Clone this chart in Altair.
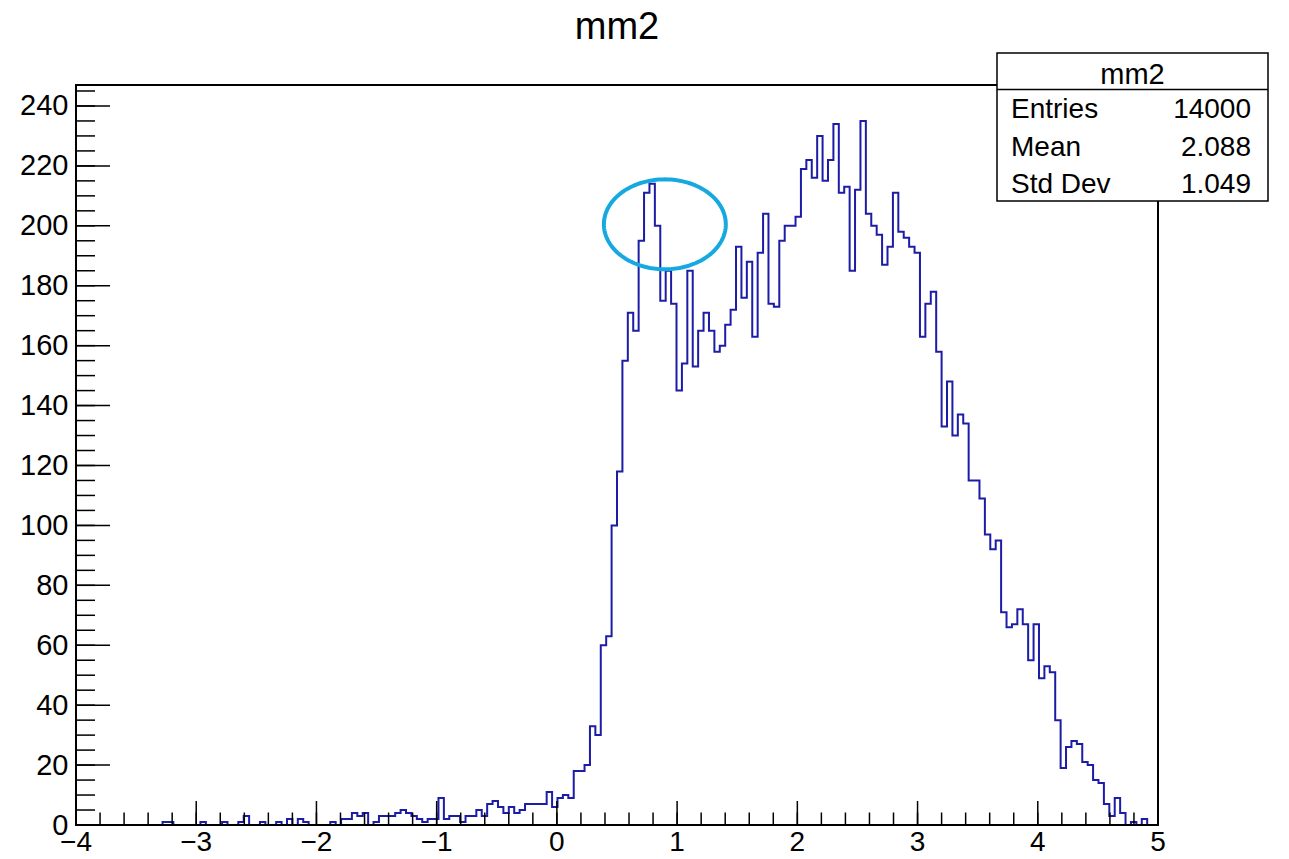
import altair as alt
import numpy as np
import pandas as pd

# ---------------- data ----------------
title_text = "mm2"
x_lo, x_hi, n_bins = -4.0, 5.0, 200
counts = [
    0, 0, 0, 0, 0, 0, 0, 0, 0, 0, 0, 0, 0, 0, 0, 0, 1, 1, 0, 0,
    0, 0, 0, 1, 0, 0, 0, 1, 0, 0, 1, 3, 0, 0, 1, 0, 0, 1, 0, 2,
    0, 2, 1, 0, 0, 0, 0, 1, 0, 2, 2, 4, 3, 4, 0, 1, 3, 3, 3, 4,
    5, 4, 3, 2, 1, 2, 2, 9, 2, 3, 3, 1, 3, 3, 5, 3, 7, 8, 6, 4,
    6, 4, 5, 7, 7, 7, 7, 11, 6, 9, 10, 9, 18, 18, 20, 33, 30, 60, 63, 100,
    118, 155, 171, 165, 195, 211, 214, 200, 175, 185, 174, 145, 154, 185, 153, 165, 171, 165, 158, 160,
    167, 172, 193, 176, 188, 163, 191, 204, 174, 173, 195, 200, 200, 203, 219, 222, 216, 230, 215, 222,
    234, 211, 213, 185, 212, 235, 204, 200, 197, 187, 193, 211, 198, 196, 193, 191, 163, 174, 178, 158,
    133, 148, 130, 137, 134, 115, 115, 109, 97, 92, 95, 71, 66, 67, 72, 67, 55, 67, 49, 53,
    51, 35, 19, 26, 28, 27, 21, 20, 15, 14, 7, 3, 9, 4, 0, 1, 0, 2, 0, 0,
]
y_top = 247
x_major = [-4, -3, -2, -1, 0, 1, 2, 3, 4, 5]
x_labels = ["\u22124", "\u22123", "\u22122", "\u22121", "0", "1", "2", "3", "4", "5"]
x_minor = [round(-4 + 0.2 * i, 2) for i in range(46)]
y_major = [0, 20, 40, 60, 80, 100, 120, 140, 160, 180, 200, 220, 240]
y_minor = list(range(0, 246, 5))
stats_names = ["Entries", "Mean", "Std Dev"]
stats_values = ["14000", "2.088", "1.049"]
# highlight ellipse (centre x, centre y, half-width, half-height) in data units
ell_cx, ell_cy, ell_rx, ell_ry = 0.898, 200.5, 0.507, 15.0

# ---------------- styles ----------------
W, H = 1082, 740
FONT = "Liberation Sans"
HIST_COLOR = "#1c1ca6"
ELL_COLOR = "#16a9e1"

width_bin = (x_hi - x_lo) / n_bins
edges = [x_lo + width_bin * k for k in range(n_bins)] + [x_hi]
hist_df = pd.DataFrame({"x": edges, "y": counts + [counts[-1]]})

t = np.linspace(0, 2 * np.pi, 181)
ell_df = pd.DataFrame({"x": ell_cx + ell_rx * np.cos(t),
                       "y": ell_cy + ell_ry * np.sin(t),
                       "i": np.arange(len(t))})

xs = alt.Scale(domain=[x_lo, x_hi], nice=False, zero=False)
ys = alt.Scale(domain=[0, y_top], nice=False, zero=True)

hist = alt.Chart(hist_df).mark_line(
    interpolate="step-after", color=HIST_COLOR, strokeWidth=2
).encode(
    x=alt.X("x:Q", scale=xs, axis=None),
    y=alt.Y("y:Q", scale=ys, axis=alt.Axis(
        values=y_major, title=None, grid=False, ticks=False, tickSize=0,
        domain=False, labelFontSize=29, labelFont=FONT, labelColor="black",
        labelPadding=8)),
)

xlab = alt.Chart(pd.DataFrame({"v": x_major, "lab": x_labels})).mark_text(
    font=FONT, fontSize=28, color="black", align="center", baseline="alphabetic"
).encode(x=alt.X("v:Q", scale=xs, axis=None), y=alt.value(H + 26), text="lab:N")

ellipse = alt.Chart(ell_df).mark_line(color=ELL_COLOR, strokeWidth=4).encode(
    x=alt.X("x:Q", scale=xs, axis=None),
    y=alt.Y("y:Q", scale=ys, axis=None),
    order="i:O",
)

def xticks(vals, length):
    return alt.Chart(pd.DataFrame({"v": vals})).mark_rule(color="black", strokeWidth=1.5).encode(
        x=alt.X("v:Q", scale=xs, axis=None), y=alt.value(H), y2=alt.value(H - length))

def yticks(vals, length):
    return alt.Chart(pd.DataFrame({"v": vals})).mark_rule(color="black", strokeWidth=1.5).encode(
        y=alt.Y("v:Q", scale=ys, axis=None), x=alt.value(0), x2=alt.value(length))

base_axis = alt.Chart(pd.DataFrame({"v": [0]})).mark_rule(color="black", strokeWidth=2).encode(
    y=alt.Y("v:Q", scale=ys, axis=None), x=alt.value(0), x2=alt.value(W))

title = alt.Chart(pd.DataFrame({"t": [title_text]})).mark_text(
    font=FONT, fontSize=38, color="black", align="center", baseline="alphabetic"
).encode(text="t:N", x=alt.value(W / 2), y=alt.value(-46))

# stats box
box = alt.Chart(pd.DataFrame({"v": [0]})).mark_rect(
    fill="white", stroke="black", strokeWidth=1.5
).encode(x=alt.value(921), x2=alt.value(1192), y=alt.value(-32), y2=alt.value(116))
sep = alt.Chart(pd.DataFrame({"v": [0]})).mark_rule(color="black", strokeWidth=1.5).encode(
    x=alt.value(921), x2=alt.value(1192), y=alt.value(4.5))
box_title = alt.Chart(pd.DataFrame({"t": [title_text]})).mark_text(
    font=FONT, fontSize=29, color="black", align="center", baseline="alphabetic"
).encode(text="t:N", x=alt.value(1056.5), y=alt.value(-1))
stats_df = pd.DataFrame({"name": stats_names, "val": stats_values, "row": [0, 1, 2]})
stats_y = alt.Y("row:Q", scale=alt.Scale(domain=[0, 2], range=[33, 108]), axis=None)
names = alt.Chart(stats_df).mark_text(
    font=FONT, fontSize=28, color="black", align="left", baseline="alphabetic"
).encode(text="name:N", x=alt.value(935), y=stats_y)
vals = alt.Chart(stats_df).mark_text(
    font=FONT, fontSize=28, color="black", align="right", baseline="alphabetic"
).encode(text="val:N", x=alt.value(1175), y=stats_y)

chart = alt.layer(
    hist, ellipse,
    xticks(x_minor, 12.5), xticks(x_major, 24),
    yticks(y_minor, 19), yticks(y_major, 34),
    base_axis, xlab, title, box, sep, box_title, names, vals,
).resolve_scale(y="independent").properties(
    width=W, height=H,
    padding={"left": 68, "top": 77, "right": 112, "bottom": 26},
    autosize=alt.AutoSizeParams(type="none"),
    background="white",
).configure_view(stroke="black", strokeWidth=2)

chart.save("out.html", embed_options={"renderer": "svg", "actions": False})
